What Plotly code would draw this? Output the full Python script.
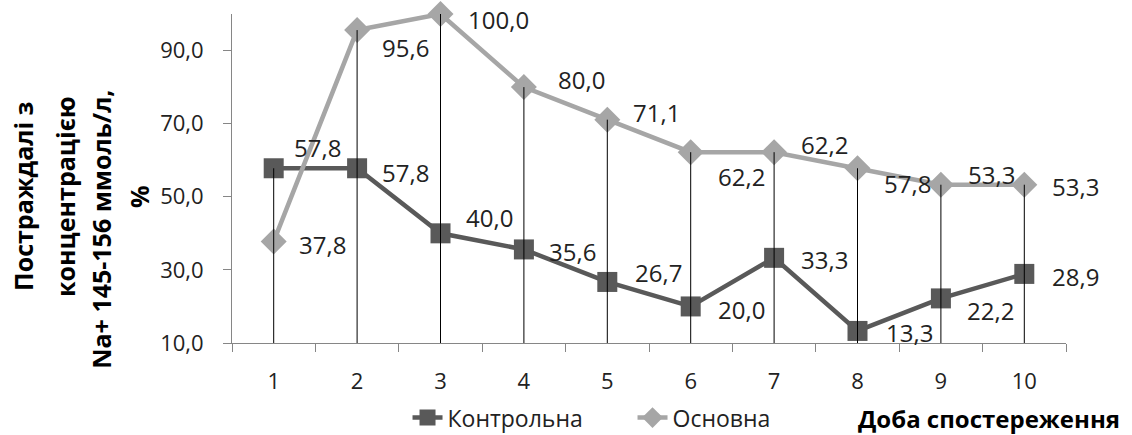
import plotly.graph_objects as go

days = ["1", "2", "3", "4", "5", "6", "7", "8", "9", "10"]
kontrolna = [57.8, 57.8, 40.0, 35.6, 26.7, 20.0, 33.3, 13.3, 22.2, 28.9]
osnovna = [37.8, 95.6, 100.0, 80.0, 71.1, 62.2, 62.2, 57.8, 53.3, 53.3]
y_ticks = [10, 30, 50, 70, 90]

# label offsets (pixels): right shift and downward shift
k_dx = [20, 25, 25, 25, 28, 27, 27, 28, 26, 28]
k_dy = [-21, 4, -16, 2, -9, 3, 2, 2, 12, 3]
o_dx = [25, 25, 27, 34, 26, 27, 27, 26, 27, 28]
o_dy = [3, 17, 5, -8, -7, 24, -8, 15, -10, 2]

FONT = "Open Sans, Liberation Sans, sans-serif"
DARK = "#595959"
LIGHT = "#A6A6A6"
AXIS = "#868686"

fig = go.Figure()

fig.add_trace(go.Scatter(
    x=days, y=kontrolna, name="Контрольна", mode="lines+markers",
    line=dict(color=DARK, width=4.5),
    marker=dict(symbol="square", size=20, color=DARK),
    cliponaxis=False,
))
fig.add_trace(go.Scatter(
    x=days, y=osnovna, name="Основна", mode="lines+markers",
    line=dict(color=LIGHT, width=4.5),
    marker=dict(symbol="diamond", size=20, color=LIGHT),
    cliponaxis=False,
))

# drop lines from the highest point of each day down to the axis
dx_list, dy_list = [], []
for d, a, b in zip(days, kontrolna, osnovna):
    dx_list += [d, d, None]
    dy_list += [y_ticks[0], max(a, b), None]
fig.add_trace(go.Scatter(
    x=dx_list, y=dy_list, mode="lines", showlegend=False,
    line=dict(color="black", width=1), hoverinfo="skip", cliponaxis=False,
))

def fmt(v):
    return f"{v:.1f}".replace(".", ",")

annotations = []
for series, offx, offy in ((kontrolna, k_dx, k_dy), (osnovna, o_dx, o_dy)):
    for i, (v, sx, sy) in enumerate(zip(series, offx, offy)):
        annotations.append(dict(x=i, y=v, xref="x", yref="y", text=fmt(v), showarrow=False,
                                xanchor="left", yanchor="middle", xshift=sx - 2, yshift=-sy,
                                font=dict(family=FONT, size=24, color="#222222")))

# y-axis title lines
title_lines = [
    ("Постраждалі з", -209, 0.444),
    ("концентрацією", -167, 0.444),
    ("Na+ 145-156 ммоль/л,", -131, 0.344),
    ("%", -93, 0.444),
]
for txt, xs, yp in title_lines:
    annotations.append(dict(x=0, y=yp, xref="paper", yref="paper", text=f"<b>{txt}</b>",
                            textangle=-90, showarrow=False, xanchor="center", yanchor="middle",
                            xshift=xs, font=dict(family=FONT, size=25, color="black")))

annotations.append(dict(x=1.0675, y=-0.228, xref="paper", yref="paper",
                        text="<b>Доба спостереження</b>", showarrow=False,
                        xanchor="right", yanchor="middle",
                        font=dict(family=FONT, size=24, color="black")))

fig.update_layout(
    width=1132, height=435,
    margin=dict(l=232, r=66, t=14, b=92),
    paper_bgcolor="white", plot_bgcolor="white",
    separators=", ",
    font=dict(family=FONT, size=22, color="#222222"),
    showlegend=True,
    legend=dict(orientation="h", xref="container", yref="container",
                x=0.36, y=0.04, xanchor="left", yanchor="middle",
                font=dict(family=FONT, size=23, color="#222222"),
                bgcolor="rgba(0,0,0,0)", entrywidth=180, entrywidthmode="pixels",
                tracegroupgap=0),
    annotations=annotations,
    xaxis=dict(type="category", range=[-0.5, 9.5], showgrid=False, zeroline=False,
               showline=True, linecolor=AXIS, linewidth=1, automargin=False,
               ticks="outside", tickson="boundaries", ticklen=8, tickcolor=AXIS,
               ticklabelstandoff=19, tickfont=dict(family=FONT, size=22, color="#222222")),
    yaxis=dict(range=[10, 100], tickvals=y_ticks, tickformat=".1f", showgrid=False,
               zeroline=False, showline=True, linecolor=AXIS, linewidth=1, automargin=False,
               ticks="outside", ticklen=8, tickcolor=AXIS, ticklabelstandoff=15,
               tickfont=dict(family=FONT, size=22, color="#222222")),
)

fig.write_html("out.html", config={"displayModeBar": False},
               post_script="document.body.style.margin='0px';")
